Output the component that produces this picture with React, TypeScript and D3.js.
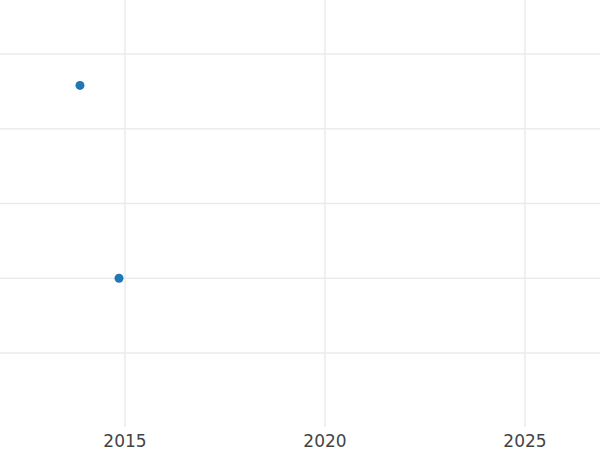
import React from "react";
import * as d3 from "d3";

const years: number[] = [2013.875, 2014.85];
const values: number[] = [4.58, 2.0];
const xTicks: number[] = [2015, 2020, 2025];
const yTicks: number[] = [1, 2, 3, 4, 5];

export default function App() {
  const W = 600;
  const H = 450;
  const plotBottom = 427;
  const x = d3.scaleLinear().domain([2015, 2025]).range([125, 525]);
  const y = d3.scaleLinear().domain([1, 5]).range([353, 54]);
  const grid = "#ebebeb";
  return (
    <svg
      width={W}
      height={H}
      style={{ position: "absolute", left: 0, top: 0, background: "#fff" }}
      fontFamily="DejaVu Sans, sans-serif"
    >
      <rect x={0} y={0} width={W} height={H} fill="#ffffff" />
      {yTicks.map((t) => (
        <line key={"y" + t} x1={0} x2={W} y1={y(t)} y2={y(t)} stroke={grid} strokeWidth={1.5} />
      ))}
      {xTicks.map((t) => (
        <line key={"x" + t} x1={x(t)} x2={x(t)} y1={0} y2={plotBottom} stroke={grid} strokeWidth={1.5} />
      ))}
      {years.map((yr, i) => (
        <circle key={"p" + i} cx={x(yr)} cy={y(values[i])} r={4.5} fill="#1f77b4" />
      ))}
      {xTicks.map((t) => (
        <text key={"l" + t} x={x(t)} y={446.5} textAnchor="middle" fontSize={17} fill="#444">
          {String(t)}
        </text>
      ))}
    </svg>
  );
}
